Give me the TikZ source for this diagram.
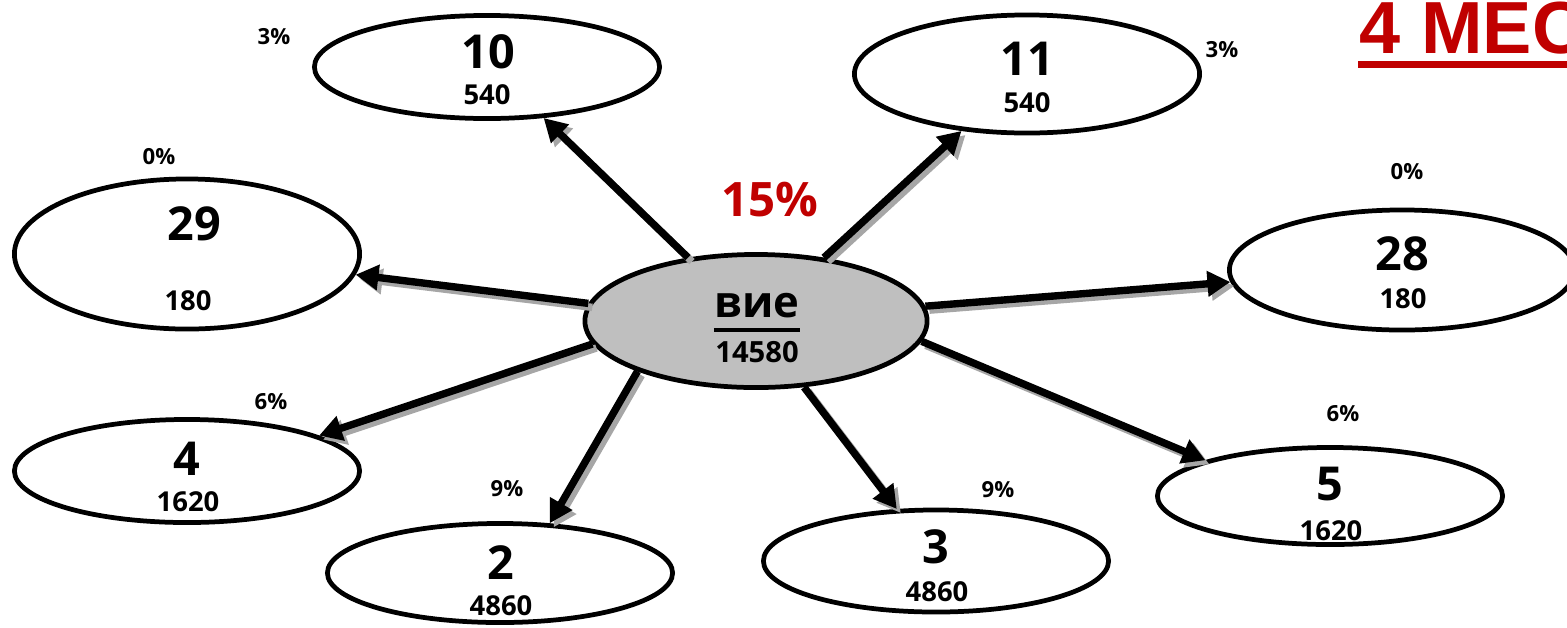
\documentclass[tikz,border=0pt]{standalone}
\usepackage{fontspec}
\setmainfont{Open Sans}
\newfontfamily\titlefont{Liberation Sans}
\usetikzlibrary{arrows.meta,shapes.geometric}
\definecolor{darkred}{RGB}{192,0,0}
\definecolor{hubgray}{RGB}{191,191,191}
\tikzset{
  leaf/.style={ellipse, draw=black, line width=1.35pt, inner sep=0pt, minimum width=3.45cm},
  hub/.style={leaf, fill=hubgray, minimum width=3.42cm, minimum height=1.33cm},
  num/.style={inner sep=0pt, font=\bfseries\fontsize{13.3}{14}\selectfont},
  val/.style={inner sep=0pt, font=\bfseries\fontsize{7.8}{9}\selectfont},
  pct/.style={inner sep=0pt, font=\bfseries\fontsize{6.3}{7}\selectfont},
  arr/.style={line width=2.1pt, -{Triangle[length=6.5pt,width=7pt]}},
  arrshadow/.style={arr, draw=black!35, fill=black!35},
}
\begin{document}
\begin{tikzpicture}[x=0.01cm, y=-0.01cm]
\useasboundingbox (0,0) rectangle (1567,627);
% ellipses
\node[hub] (hub) at (756,321) {};
\node[leaf, minimum height=1.03cm] (n10) at (487,67) {};
\node[leaf, minimum height=1.18cm] (n11) at (1027,74) {};
\node[leaf, minimum height=1.50cm] (n29) at (187,254) {};
\node[leaf, minimum height=1.20cm] (n28) at (1402,270) {};
\node[leaf, minimum height=1.03cm] (n4) at (187,471) {};
\node[leaf, minimum height=0.99cm] (n2) at (500,573) {};
\node[leaf, minimum height=1.02cm] (n3) at (936,561) {};
\node[leaf, minimum height=0.97cm] (n5) at (1330,496) {};
% arrows with shadow
\foreach \s/\t/\e in {137/n10/-42, 43/n11/221, 174/n29/-7, 5/n28/184, 188/n4/15, 203/n2/45, -54/n3/127, -7/n5/164}
  \draw[arrshadow] ([shift={(4,4)}]hub.\s) -- ([shift={(4,4)}]\t.\e);
\foreach \s/\t/\e in {137/n10/-42, 43/n11/221, 174/n29/-7, 5/n28/184, 188/n4/15, 203/n2/45, -54/n3/127, -7/n5/164}
  \draw[arr] (hub.\s) -- (\t.\e);
% texts
\node[num] (t10) at (488,52) {10};
\node[val] (v10) at (487,95) {540};
\node[pct] (p10) at (274,37) {3\%};
\node[num] (t11) at (1027,59) {11};
\node[val] (v11) at (1027,103) {540};
\node[pct] (p11) at (1222,50) {3\%};
\node[num] (t29) at (194,224) {29};
\node[val] (v29) at (188,301) {180};
\node[pct] (p29) at (159,157) {0\%};
\node[num] (t28) at (1402,254) {28};
\node[val] (v28) at (1403,299) {180};
\node[pct] (p28) at (1407,172) {0\%};
\node[num] (t4) at (187,459) {4};
\node[val] (v4) at (188,502) {1620};
\node[pct] (p4) at (271,402) {6\%};
\node[num] (t2) at (501,563) {2};
\node[val] (v2) at (501,606) {4860};
\node[pct] (p2) at (507,489) {9\%};
\node[num] (t3) at (936,547) {3};
\node[val] (v3) at (937,592) {4860};
\node[pct] (p3) at (998,490) {9\%};
\node[num] (t5) at (1330,484) {5};
\node[val] (v5) at (1331,531) {1620};
\node[pct] (p5) at (1343,414) {6\%};
\node[inner sep=0pt, font=\bfseries\fontsize{12.4}{14}\selectfont] (vie) at (757,306) {вие};
\draw[line width=1.1pt] ([yshift=-0.11cm]vie.south west) -- ([yshift=-0.11cm]vie.south east);
\node[inner sep=0pt, font=\bfseries\fontsize{8.3}{10}\selectfont] (total) at (757,352) {14580};
\node[inner sep=0pt, text=darkred, font=\bfseries\fontsize{13.5}{15}\selectfont] (share) at (770,200) {15\%};
% title
\node[inner sep=0pt, anchor=base west, text=darkred, font=\titlefont\bfseries\fontsize{21}{23}\selectfont] (mes) at (1359,53) {4 МЕС};
\draw[darkred, line width=2pt] ([xshift=-0.01cm,yshift=-0.1cm]mes.south west) -- ([yshift=-0.1cm]mes.south east);
\end{tikzpicture}
\end{document}
